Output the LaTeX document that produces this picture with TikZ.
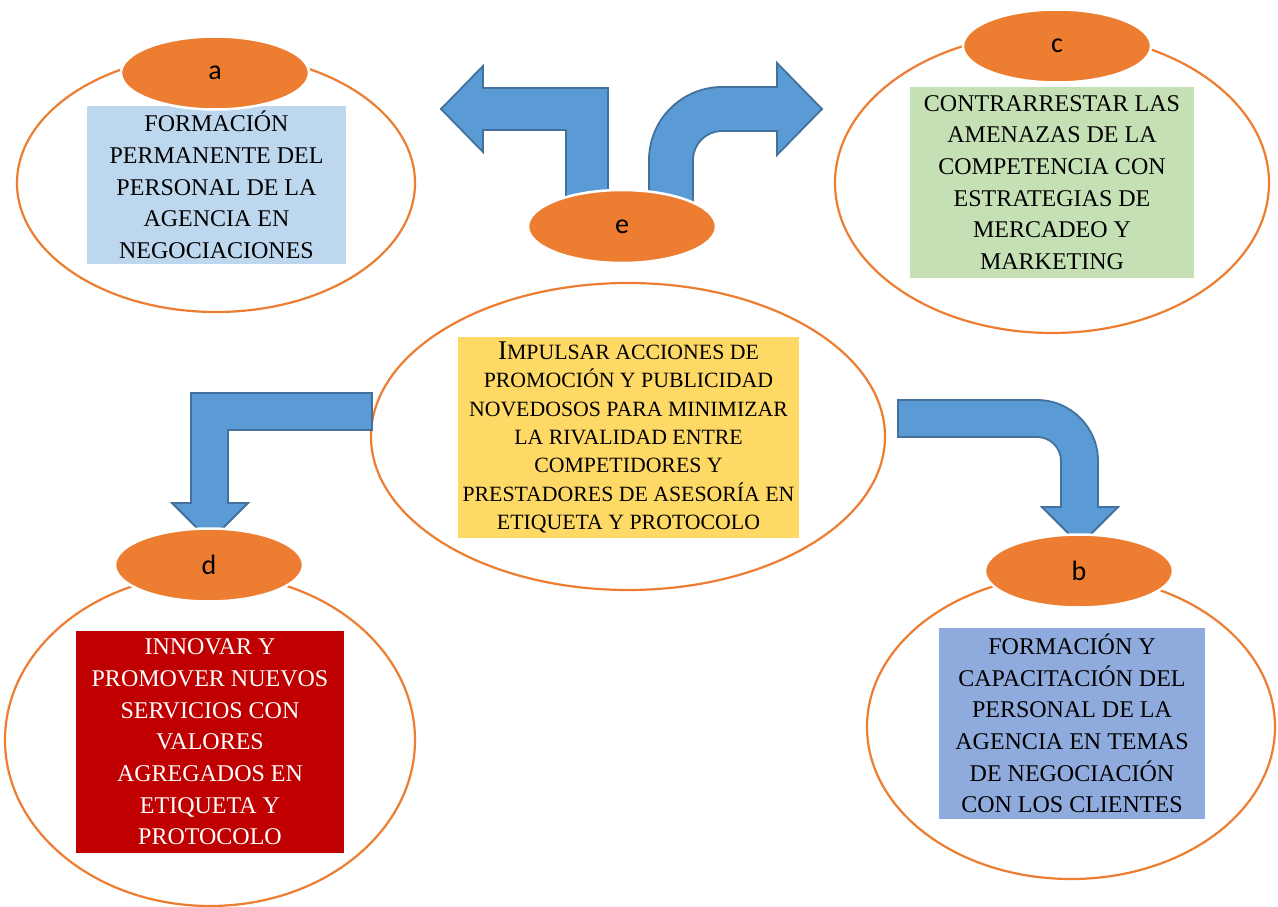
\documentclass[tikz,border=0pt]{standalone}
\usepackage{fontspec}
\setmainfont{Liberation Serif}
\newfontfamily\labelfont{Carlito}
\usetikzlibrary{shapes.geometric}
\definecolor{orng}{HTML}{ED7D31}
\definecolor{arrowfill}{HTML}{5B9BD5}
\definecolor{arrowline}{HTML}{41719C}
\definecolor{boxa}{HTML}{BDD7EE}
\definecolor{boxc}{HTML}{C5E0B4}
\definecolor{boxe}{HTML}{FFD966}
\definecolor{boxd}{HTML}{C00000}
\definecolor{boxb}{HTML}{8FAADC}
\begin{document}
\begin{tikzpicture}[x=1pt,y=-1pt,
  outer/.style={ellipse, draw=orng, line width=2.2pt, inner sep=0pt},
  tag/.style={ellipse, fill=orng, draw=white, line width=2.5pt, inner sep=0pt,
    minimum width=188pt, minimum height=73pt, font=\labelfont\fontsize{28}{28}\selectfont},
  txtbox/.style={rectangle, inner sep=0pt, align=center, font=\fontsize{24}{31.7}\selectfont},
  blockarrow/.style={fill=arrowfill, draw=arrowline, line width=1.8pt, line join=miter}]
\fill[white] (0,0) rectangle (1278,907);
\useasboundingbox (0,0) rectangle (1278,907);

% outer ellipses
\node[outer, minimum width=398pt, minimum height=258pt] (oa) at (216,183) {};
\node[outer, minimum width=434pt, minimum height=300pt] (oc) at (1052,183) {};
\node[outer, minimum width=410pt, minimum height=332pt] (od) at (210,740) {};
\node[outer, minimum width=408pt, minimum height=304pt] (ob) at (1071,727) {};
\node[outer, minimum width=514pt, minimum height=307pt] (oe) at (628,436.5) {};

% text boxes
\node[txtbox, fill=boxa, minimum width=259pt, minimum height=158pt] (ta) at (216.5,185)
  {FORMACIÓN\\PERMANENTE DEL\\PERSONAL DE LA\\AGENCIA EN\\NEGOCIACIONES};
\node[txtbox, fill=boxc, minimum width=284pt, minimum height=191pt] (tc) at (1052,182.5)
  {CONTRARRESTAR LAS\\AMENAZAS DE LA\\COMPETENCIA CON\\ESTRATEGIAS DE\\MERCADEO Y\\MARKETING};
\node[txtbox, fill=boxe, minimum width=341pt, minimum height=201pt,
  font=\fontsize{21.8}{28.3}\selectfont] (te) at (628.5,437.5)
  {{\fontsize{27}{28.3}\selectfont I}MPULSAR ACCIONES DE\\PROMOCIÓN Y PUBLICIDAD\\NOVEDOSOS PARA MINIMIZAR\\LA RIVALIDAD ENTRE\\COMPETIDORES Y\\PRESTADORES DE ASESORÍA EN\\ETIQUETA Y PROTOCOLO};
\node[txtbox, fill=boxd, text=white, minimum width=268pt, minimum height=222pt] (td) at (210,742)
  {INNOVAR Y\\PROMOVER NUEVOS\\SERVICIOS CON\\VALORES\\AGREGADOS EN\\ETIQUETA Y\\PROTOCOLO};
\node[txtbox, fill=boxb, minimum width=266pt, minimum height=191pt] (tb) at (1072,723.5)
  {FORMACIÓN Y\\CAPACITACIÓN DEL\\PERSONAL DE LA\\AGENCIA EN TEMAS\\DE NEGOCIACIÓN\\CON LOS CLIENTES};

% block arrows
\draw[blockarrow] (608,215) -- (608,88) -- (483,88) -- (483,66) -- (441,109) -- (483,152)
  -- (483,130) -- (566,130) -- (566,215) -- cycle;
\draw[blockarrow] (649,215) -- (649,160) .. controls (649,119.7) and (681.7,87) .. (722,87)
  -- (777,87) -- (777,63) -- (822,109) -- (777,155) -- (777,131) -- (722,131)
  .. controls (706,131) and (693,144) .. (693,160) -- (693,215) -- cycle;
\draw[blockarrow] (372,393) -- (191,393) -- (191,503) -- (172,503) -- (210,541) -- (248,503)
  -- (228,503) -- (228,430) -- (372,430) -- cycle;
\draw[blockarrow] (898,400) -- (1037,400) .. controls (1070.7,400) and (1098,427.3) .. (1098,461)
  -- (1098,507) -- (1118,507) -- (1080,545) -- (1042,507) -- (1061,507) -- (1061,461)
  .. controls (1061,447.7) and (1050.3,437) .. (1037,437) -- (898,437) -- cycle;

% tags
\node[tag] (a) at (215,73) {a};
\node[tag] (c) at (1057,46) {c};
\node[tag] (e) at (622,226.5) {e};
\node[tag] (d) at (209,565) {d};
\node[tag] (b) at (1079,571) {b};
\end{tikzpicture}
\end{document}
